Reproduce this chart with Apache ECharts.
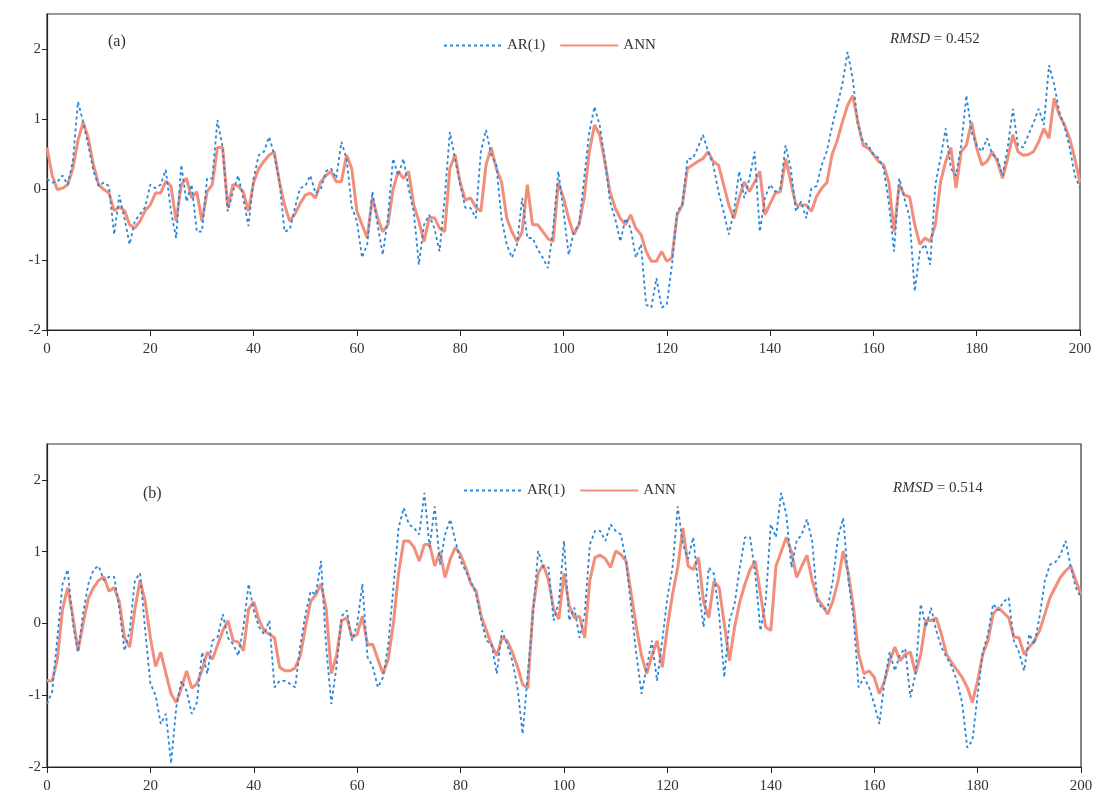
<!DOCTYPE html>
<html>
<head>
<meta charset="utf-8">
<script src="https://cdn.jsdelivr.net/npm/echarts@6/dist/echarts.min.js"></script>
<style>
  html, body { margin: 0; padding: 0; background: #fff; }
  #main { width: 1104px; height: 805px; }
</style>
</head>
<body>
<div id="main"></div>
<script>
// values, index = time step 0..200
var arA = [0.15,0.1,0.11,0.2,0.07,0.4,1.25,0.96,0.63,0.26,0.05,0.1,0.05,-0.64,-0.08,-0.41,-0.78,-0.45,-0.35,-0.25,
  0.07,0.02,0.07,0.28,-0.31,-0.69,0.35,-0.17,0.07,-0.6,-0.6,0.16,0.16,0.99,0.6,-0.31,-0.03,0.2,-0.12,-0.52,
  0.16,0.49,0.54,0.75,0.5,0.11,-0.6,-0.57,-0.26,0.02,0.05,0.2,-0.05,0.0,0.26,0.3,0.16,0.68,0.44,-0.25,
  -0.45,-0.97,-0.78,-0.03,-0.5,-0.93,-0.41,0.44,0.2,0.44,0.02,-0.31,-1.07,-0.5,-0.36,-0.55,-0.88,-0.12,0.82,0.44,
  0.07,-0.26,-0.26,-0.41,0.54,0.85,0.49,0.35,-0.41,-0.78,-0.97,-0.78,-0.12,-0.69,-0.69,-0.85,-0.97,-1.12,-0.55,0.26,
  -0.31,-0.93,-0.6,-0.5,0.16,0.82,1.18,0.92,0.44,-0.17,-0.41,-0.74,-0.41,-0.55,-0.97,-0.78,-1.64,-1.68,-1.26,-1.68,
  -1.64,-1.07,-0.31,-0.22,0.44,0.44,0.59,0.78,0.54,0.35,-0.03,-0.31,-0.64,-0.31,0.26,-0.12,0.16,0.54,-0.6,-0.12,
  0.07,-0.03,0.02,0.63,0.3,-0.31,-0.17,-0.41,0.02,0.05,0.35,0.55,0.9,1.2,1.5,1.96,1.58,0.92,0.68,0.63,
  0.5,0.45,0.3,-0.2,-0.88,0.16,-0.12,-0.4,-1.45,-0.88,-0.78,-1.07,0.07,0.45,0.87,0.3,0.2,0.63,1.34,0.82,
  0.63,0.54,0.73,0.5,0.45,0.2,0.6,1.15,0.63,0.6,0.78,0.95,1.15,0.92,1.77,1.5,1.1,0.9,0.6,0.2,0.02];
var annA = [0.6,0.2,0.0,0.02,0.07,0.3,0.7,0.96,0.73,0.35,0.07,0.0,-0.05,-0.3,-0.25,-0.3,-0.5,-0.55,-0.45,-0.3,
  -0.22,-0.05,-0.05,0.12,0.05,-0.45,0.07,0.16,-0.12,-0.03,-0.45,-0.03,0.07,0.6,0.6,-0.25,0.07,0.05,-0.03,-0.31,
  0.1,0.3,0.4,0.49,0.54,0.11,-0.22,-0.45,-0.35,-0.2,-0.08,-0.05,-0.12,0.11,0.2,0.26,0.11,0.11,0.49,0.3,
  -0.31,-0.5,-0.69,-0.12,-0.4,-0.6,-0.5,0.0,0.26,0.16,0.26,-0.22,-0.45,-0.74,-0.4,-0.4,-0.55,-0.6,0.3,0.5,
  0.1,-0.15,-0.12,-0.25,-0.31,0.35,0.6,0.3,0.11,-0.4,-0.6,-0.74,-0.6,0.07,-0.5,-0.5,-0.6,-0.7,-0.74,0.1,
  -0.12,-0.41,-0.64,-0.5,-0.12,0.54,0.92,0.78,0.4,-0.03,-0.26,-0.41,-0.5,-0.36,-0.55,-0.64,-0.88,-1.02,-1.02,-0.88,
  -1.02,-0.97,-0.36,-0.22,0.3,0.35,0.4,0.44,0.54,0.4,0.35,0.07,-0.22,-0.41,-0.12,0.11,-0.03,0.11,0.26,-0.36,
  -0.2,-0.05,-0.03,0.44,0.11,-0.22,-0.22,-0.22,-0.31,-0.1,0.02,0.1,0.5,0.7,0.96,1.2,1.34,0.96,0.63,0.59,
  0.5,0.4,0.35,0.1,-0.6,0.07,-0.08,-0.1,-0.5,-0.78,-0.69,-0.74,-0.5,0.11,0.4,0.6,0.02,0.54,0.63,0.96,
  0.59,0.35,0.4,0.54,0.4,0.16,0.44,0.78,0.54,0.49,0.5,0.54,0.68,0.87,0.73,1.3,1.06,0.92,0.73,0.44,0.1];
var arB = [-1.12,-0.95,-0.2,0.55,0.75,0.0,-0.4,0.15,0.55,0.75,0.8,0.6,0.65,0.65,0.2,-0.38,-0.1,0.6,0.7,-0.1,
  -0.84,-1.0,-1.4,-1.26,-1.95,-1.17,-0.8,-0.94,-1.26,-1.1,-0.4,-0.7,-0.24,-0.19,0.13,-0.2,-0.29,-0.45,-0.05,0.55,
  0.18,-0.05,-0.15,0.04,-0.89,-0.8,-0.8,-0.84,-0.89,-0.3,0.13,0.45,0.4,0.87,-0.33,-1.12,-0.6,0.1,0.18,-0.24,
  -0.01,0.55,-0.47,-0.6,-0.89,-0.75,-0.3,0.5,1.33,1.61,1.38,1.33,1.24,1.82,1.06,1.63,0.82,1.24,1.45,1.15,
  0.87,0.73,0.59,0.41,0.04,-0.24,-0.29,-0.7,-0.1,-0.29,-0.52,-0.89,-1.54,-0.7,0.13,1.01,0.78,0.78,0.04,0.3,
  1.15,0.04,0.22,-0.2,0.13,1.1,1.29,1.29,1.15,1.38,1.29,1.24,0.87,0.22,-0.43,-0.98,-0.61,-0.24,-0.8,-0.24,
  0.36,0.78,1.63,1.1,0.9,1.2,0.5,-0.05,0.78,0.69,0.13,-0.75,0.04,0.27,0.78,1.2,1.2,0.69,-0.1,0.3,
  1.38,1.2,1.82,1.52,0.78,1.15,1.24,1.45,1.15,0.31,0.2,0.22,0.6,1.2,1.47,0.6,0.08,-0.89,-0.75,-0.89,
  -1.12,-1.4,-0.8,-0.4,-0.66,-0.43,-0.35,-1.03,-0.7,0.27,-0.05,0.22,-0.1,-0.33,-0.47,-0.6,-0.8,-1.1,-1.73,-1.63,
  -1.0,-0.4,-0.15,0.27,0.18,0.3,0.36,-0.24,-0.4,-0.66,-0.15,-0.29,0.1,0.59,0.82,0.85,0.95,1.15,0.8,0.5,0.36];
var annB = [-0.8,-0.8,-0.5,0.2,0.5,0.1,-0.38,0.0,0.35,0.5,0.6,0.65,0.45,0.5,0.3,-0.2,-0.33,0.2,0.6,0.3,
  -0.2,-0.6,-0.4,-0.7,-0.98,-1.1,-0.9,-0.66,-0.9,-0.84,-0.65,-0.4,-0.5,-0.3,-0.1,0.04,-0.24,-0.26,-0.38,0.2,
  0.3,0.05,-0.1,-0.15,-0.2,-0.61,-0.66,-0.66,-0.62,-0.45,-0.05,0.31,0.4,0.55,0.2,-0.7,-0.45,0.04,0.08,-0.2,
  -0.15,0.1,-0.3,-0.29,-0.5,-0.7,-0.5,0.0,0.7,1.15,1.15,1.06,0.87,1.1,1.1,0.8,1.0,0.64,0.9,1.06,
  0.96,0.78,0.55,0.45,0.1,-0.1,-0.3,-0.45,-0.2,-0.24,-0.4,-0.6,-0.85,-0.9,0.2,0.7,0.82,0.6,0.2,0.06,
  0.7,0.25,0.08,0.1,-0.2,0.6,0.92,0.95,0.9,0.78,1.01,0.96,0.87,0.41,-0.05,-0.45,-0.7,-0.45,-0.24,-0.61,
  -0.05,0.41,0.78,1.33,0.8,0.75,0.92,0.3,0.08,0.59,0.5,0.0,-0.52,-0.05,0.3,0.55,0.75,0.87,0.41,-0.05,
  -0.1,0.8,1.0,1.2,1.0,0.64,0.8,0.95,0.6,0.35,0.25,0.13,0.31,0.59,1.01,0.7,0.22,-0.43,-0.7,-0.66,
  -0.75,-0.98,-0.8,-0.52,-0.33,-0.52,-0.43,-0.4,-0.7,-0.43,0.04,0.04,0.08,-0.15,-0.43,-0.55,-0.65,-0.75,-0.89,-1.1,
  -0.8,-0.43,-0.24,0.13,0.22,0.15,0.08,-0.19,-0.2,-0.43,-0.33,-0.24,-0.1,0.13,0.36,0.5,0.64,0.73,0.8,0.6,0.4];
var yTicks = [-2, -1, 0, 1, 2];
var names = ['AR(1)', 'ANN'];

function pairs(arr) {
  return arr.map(function (v, i) { return [i, v]; });
}

var font = 'Liberation Serif';
var blue = '#2a86d6';
var salmon = '#f28f7b';

function xAxis(idx) {
  return {
    type: 'value', gridIndex: idx, min: 0, max: 200, interval: 20,
    axisLine: { onZero: false, lineStyle: { color: '#222', width: 1.2 } },
    axisTick: { length: 6, lineStyle: { color: '#222' } },
    axisLabel: { color: '#333', fontFamily: font, fontSize: 15, margin: 12 },
    splitLine: { show: false }
  };
}
function yAxis(idx) {
  return {
    type: 'value', gridIndex: idx, min: -2, max: 2.5, interval: 1,
    axisLine: { show: true, lineStyle: { color: '#222', width: 1.2 } },
    axisTick: { show: true, length: 5, customValues: yTicks, lineStyle: { color: '#222' } },
    axisLabel: { color: '#333', fontFamily: font, fontSize: 15, margin: 6, customValues: yTicks },
    splitLine: { show: false }
  };
}
function legend(left, top) {
  return {
    left: left, top: top, itemWidth: 58, itemHeight: 10, itemGap: 14,
    data: names,
    itemStyle: { opacity: 0 },
    textStyle: { fontFamily: font, fontSize: 15, color: '#333' }
  };
}
function rmsd(left, top, val) {
  return {
    type: 'text', left: left, top: top, style: {
      text: '{i|RMSD}{n| = ' + val + '}',
      rich: {
        i: { fontFamily: font, fontStyle: 'italic', fontSize: 15, fill: '#333' },
        n: { fontFamily: font, fontSize: 15, fill: '#333' }
      }
    }
  };
}

var myChart = echarts.init(document.getElementById('main'));
var option = {
  backgroundColor: '#fff',
  animation: false,
  grid: [
    { left: 47, right: 24, top: 14, height: 316, show: true, borderColor: '#3a3030', borderWidth: 1.2 },
    { left: 47, right: 23, top: 444, height: 323, show: true, borderColor: '#3a3030', borderWidth: 1.2 }
  ],
  legend: [legend(438, 33), legend(458, 478)],
  xAxis: [xAxis(0), xAxis(1)],
  yAxis: [yAxis(0), yAxis(1)],
  graphic: [
    { type: 'text', left: 108, top: 34, style: { text: '(a)', font: '16px "Liberation Serif"', fill: '#333' } },
    { type: 'text', left: 143, top: 486, style: { text: '(b)', font: '16px "Liberation Serif"', fill: '#333' } },
    rmsd(890, 32, '0.452'),
    rmsd(893, 481, '0.514')
  ],
  series: [
    { name: 'ANN', type: 'line', xAxisIndex: 0, yAxisIndex: 0, data: pairs(annA), symbol: 'none',
      lineStyle: { color: salmon, width: 3 }, itemStyle: { color: salmon } },
    { name: 'AR(1)', type: 'line', xAxisIndex: 0, yAxisIndex: 0, data: pairs(arA), symbol: 'none',
      lineStyle: { color: blue, width: 1.8, type: [3, 3] }, itemStyle: { color: blue } },
    { name: 'ANN', type: 'line', xAxisIndex: 1, yAxisIndex: 1, data: pairs(annB), symbol: 'none',
      lineStyle: { color: salmon, width: 3 }, itemStyle: { color: salmon } },
    { name: 'AR(1)', type: 'line', xAxisIndex: 1, yAxisIndex: 1, data: pairs(arB), symbol: 'none',
      lineStyle: { color: blue, width: 1.8, type: [3, 3] }, itemStyle: { color: blue } }
  ]
};
myChart.setOption(option);

window.addEventListener('resize', function () {
  myChart.resize();
});
</script>
</body>
</html>
